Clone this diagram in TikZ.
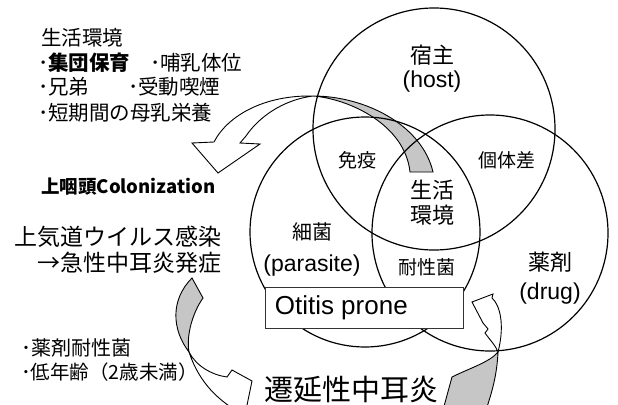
\documentclass[tikz,border=0pt]{standalone}
\usepackage{fontspec}
\setmainfont{Liberation Sans}
\newfontfamily\jp{Noto Sans CJK JP}
\begin{document}
\begin{tikzpicture}[x=1pt,y=-1pt,
  ring/.style={draw=black,line width=1.2pt},
  shade/.style={fill=gray!45,draw=black,line width=0.9pt,line join=miter},
  blank/.style={fill=white,draw=black,line width=0.9pt,line join=miter},
  lbl/.style={inner sep=0pt,font=\jp},
  lat/.style={inner sep=0pt}]
\useasboundingbox (0,0) rectangle (618,404);
\begin{scope}
\clip (0,0) rectangle (618,404);
% arrow 1 (top)
\path[shade] (313,96) .. controls (365,96) and (422,125) .. (433,172) -- (410,172)
  .. controls (405,125) and (350,99) .. (313,96) -- cycle;
\path[blank] (313,96) .. controls (265,95) and (228,115) .. (214,142) -- (192,143) -- (218,173)
  -- (260,144) -- (240,143) -- (246,136) .. controls (258,118) and (282,100) .. (313,96) -- cycle;
% arrow 2 (left)
\path[shade] (192,278) -- (203,298) .. controls (193,312) and (186,335) .. (189,352)
  .. controls (172,330) and (170,300) .. (192,278) -- cycle;
\path[blank] (189,352) .. controls (200,385) and (220,400) .. (235,410) -- (246,410) -- (252,381)
  -- (232,370) -- (227,377) .. controls (212,375) and (196,366) .. (189,352) -- cycle;
% arrow 3 (right)
\path[shade] (443,410) -- (452,377) .. controls (470,368) and (490,362) .. (498,352)
  .. controls (497,375) and (492,392) .. (486,410) -- cycle;
\path[blank] (498,352) .. controls (505,325) and (500,305) .. (492,298) -- (493,294) -- (472,302)
  -- (483,323) -- (488,329) -- (485,333) .. controls (490,340) and (496,346) .. (498,352) -- cycle;
\end{scope}
% circles
\coordinate (hostc) at (434,129);
\coordinate (parc) at (365,232);
\coordinate (drugc) at (490,233);
\draw[ring] (hostc) circle[radius=121pt];
\draw[ring] (parc) circle[radius=115pt];
\draw[ring] (drugc) circle[radius=118pt];
% circle labels
\node[lbl,font=\jp\fontsize{22}{24}\selectfont] (t1) at (432,55) {宿主};
\node[lat,font=\fontsize{23}{25}\selectfont] (t2) at (432,82) {(host)};
\node[lbl,font=\jp\fontsize{19}{21}\selectfont] (t3) at (357,160) {免疫};
\node[lbl,font=\jp\fontsize{19}{21}\selectfont] (t4) at (507,160) {個体差};
\node[lbl,font=\jp\fontsize{22}{24}\selectfont] (t5) at (432,190) {生活};
\node[lbl,font=\jp\fontsize{22}{24}\selectfont] (t6) at (432,215) {環境};
\node[lbl,font=\jp\fontsize{20}{22}\selectfont] (t7) at (312,232) {細菌};
\node[lat,font=\fontsize{23}{25}\selectfont] (t8) at (312,266) {(parasite)};
\node[lbl,font=\jp\fontsize{19}{21}\selectfont] (t9) at (427,267) {耐性菌};
\node[lbl,font=\jp\fontsize{22}{24}\selectfont] (t10) at (550,262) {薬剤};
\node[lat,font=\fontsize{23}{25}\selectfont] (t11) at (550,294) {(drug)};
% Otitis prone box
\node[draw=black!80,line width=0.8pt,fill=white,minimum width=198pt,minimum height=41pt,
  inner sep=0pt] (box) at (364,307.5) {};
\node[lat,anchor=west,font=\fontsize{26}{28}\selectfont] (otitis) at ([xshift=10pt]box.west) {Otitis prone};
% bottom title
\node[lbl,font=\jp\fontsize{29}{31}\selectfont] (chronic) at (351,390) {遷延性中耳炎};
% left texts
\node[lbl,anchor=west,font=\jp\fontsize{20.5}{22}\selectfont] (env) at (41,38) {生活環境};
\node[lbl,anchor=west,font=\jp\fontsize{20.5}{22}\selectfont] (b1) at (38,63) {･\textbf{集団保育}};
\node[lbl,anchor=west,font=\jp\fontsize{20.5}{22}\selectfont] (b2) at (150,63) {･哺乳体位};
\node[lbl,anchor=west,font=\jp\fontsize{20.5}{22}\selectfont] (b3) at (38,87) {･兄弟};
\node[lbl,anchor=west,font=\jp\fontsize{20.5}{22}\selectfont] (b4) at (128,87) {･受動喫煙};
\node[lbl,anchor=west,font=\jp\fontsize{20.5}{22}\selectfont] (b5) at (38,113) {･短期間の母乳栄養};
\node[lbl,anchor=west,font=\jp\bfseries\fontsize{18.5}{20}\selectfont] (colon) at (41,187) {上咽頭Colonization};
\node[lbl,anchor=east,font=\jp\fontsize{23}{25}\selectfont] (uri) at (222,237) {上気道ウイルス感染};
\node[lbl,anchor=east,font=\jp\fontsize{23}{25}\selectfont] (aom) at (222,263) {→急性中耳炎発症};
\node[lbl,anchor=west,font=\jp\fontsize{20}{22}\selectfont] (r1) at (21,348) {･薬剤耐性菌};
\node[lbl,anchor=west,font=\jp\fontsize{19.5}{21}\selectfont] (r2) at (21,372) {･低年齢（2歳未満）};
\end{tikzpicture}
\end{document}
